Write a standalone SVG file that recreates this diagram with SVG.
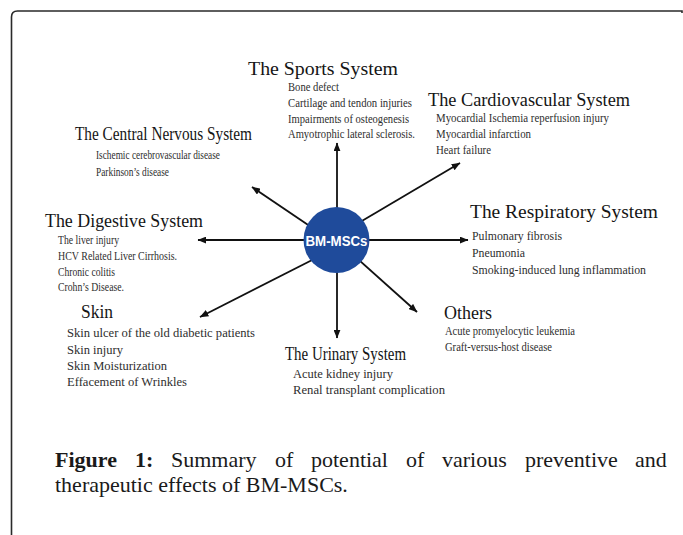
<svg xmlns="http://www.w3.org/2000/svg" width="683" height="535" viewBox="0 0 683 535">
<style>
.title{font-family:"Liberation Serif","Times New Roman",serif;font-size:19px;fill:#151515}
.item{font-family:"Liberation Serif","Times New Roman",serif;font-size:12px;fill:#2e2e2e}
.cap{font-family:"Liberation Serif","Times New Roman",serif;font-size:22px;fill:#1a1a1a}
.conn{stroke:#111;stroke-width:1.8;fill:none;marker-end:url(#ah)}
</style>
<defs>
<marker id="ah" markerUnits="userSpaceOnUse" viewBox="0 0 10 8" markerWidth="9" markerHeight="7" refX="9.5" refY="4" orient="auto">
<path d="M0,0 L10,4 L0,8 z" fill="#111"/>
</marker>
</defs>
<rect width="683" height="535" fill="#fff"/>
<path d="M11.5,535 L11.5,17 Q11.5,11 17.5,11 L682,11 L682,13" stroke="#2a2a2a" stroke-width="1.6" fill="none"/>

<g id="connectors">
<line class="conn" x1="337" y1="220" x2="337" y2="143"/>
<line class="conn" x1="337" y1="260" x2="337" y2="338"/>
<line class="conn" x1="350" y1="240" x2="468" y2="240"/>
<line class="conn" x1="320" y1="240" x2="198" y2="240"/>
<line class="conn" x1="320" y1="233" x2="252" y2="187"/>
<line class="conn" x1="350" y1="228" x2="460" y2="163"/>
<line class="conn" x1="350" y1="252" x2="417" y2="312"/>
<line class="conn" x1="322" y1="255" x2="200" y2="317"/>
</g>

<g id="center">
<circle cx="336.5" cy="240" r="33" fill="#1f4b9b"/>
<text x="336.5" y="245.5" text-anchor="middle" font-family="'Liberation Sans',Arial,sans-serif" font-weight="bold" font-size="15" fill="#fff" textLength="62" lengthAdjust="spacingAndGlyphs">BM-MSCs</text>
</g>

<g id="sports">
<text class="title" x="248" y="75" font-size="20" textLength="150" lengthAdjust="spacingAndGlyphs">The Sports System</text>
<text class="item" x="288" y="91" textLength="51" lengthAdjust="spacingAndGlyphs">Bone defect</text>
<text class="item" x="288" y="107" textLength="124" lengthAdjust="spacingAndGlyphs">Cartilage and tendon injuries</text>
<text class="item" x="288" y="123" textLength="121" lengthAdjust="spacingAndGlyphs">Impairments of osteogenesis</text>
<text class="item" x="288" y="138" textLength="127" lengthAdjust="spacingAndGlyphs">Amyotrophic lateral sclerosis.</text>
</g>

<g id="cardiovascular">
<text class="title" x="428" y="106" textLength="202" lengthAdjust="spacingAndGlyphs">The Cardiovascular System</text>
<text class="item" x="436" y="122" fill="#555" textLength="173" lengthAdjust="spacingAndGlyphs">Myocardial Ischemia reperfusion injury</text>
<text class="item" x="436" y="138" fill="#555" textLength="95" lengthAdjust="spacingAndGlyphs">Myocardial infarction</text>
<text class="item" x="436" y="154" fill="#555" textLength="55" lengthAdjust="spacingAndGlyphs">Heart failure</text>
</g>

<g id="central-nervous">
<text class="title" x="75" y="140" textLength="177" lengthAdjust="spacingAndGlyphs">The Central Nervous System</text>
<text class="item" x="96" y="159" font-size="11.5" fill="#444" textLength="124" lengthAdjust="spacingAndGlyphs">Ischemic cerebrovascular disease</text>
<text class="item" x="96" y="176" font-size="11.5" fill="#444" textLength="73" lengthAdjust="spacingAndGlyphs">Parkinson’s disease</text>
</g>

<g id="digestive">
<text class="title" x="45" y="227" textLength="158" lengthAdjust="spacingAndGlyphs">The Digestive System</text>
<text class="item" x="58" y="244" font-size="11.5" textLength="61" lengthAdjust="spacingAndGlyphs">The liver injury</text>
<text class="item" x="58" y="260" font-size="11.5" textLength="119" lengthAdjust="spacingAndGlyphs">HCV Related Liver Cirrhosis.</text>
<text class="item" x="58" y="276" font-size="11.5" textLength="57" lengthAdjust="spacingAndGlyphs">Chronic colitis</text>
<text class="item" x="58" y="291" font-size="11.5" textLength="66" lengthAdjust="spacingAndGlyphs">Crohn’s Disease.</text>
</g>

<g id="respiratory">
<text class="title" x="470" y="218" font-size="19.5" textLength="188" lengthAdjust="spacingAndGlyphs">The Respiratory System</text>
<text class="item" x="472" y="240" font-size="13" textLength="90" lengthAdjust="spacingAndGlyphs">Pulmonary fibrosis</text>
<text class="item" x="472" y="257" font-size="13" textLength="53" lengthAdjust="spacingAndGlyphs">Pneumonia</text>
<text class="item" x="472" y="274" font-size="13" textLength="174" lengthAdjust="spacingAndGlyphs">Smoking-induced lung inflammation</text>
</g>

<g id="others">
<text class="title" x="444" y="319" font-size="18" textLength="48" lengthAdjust="spacingAndGlyphs">Others</text>
<text class="item" x="445" y="335" font-size="11.5" textLength="130" lengthAdjust="spacingAndGlyphs">Acute promyelocytic leukemia</text>
<text class="item" x="445" y="351" font-size="11.5" textLength="107" lengthAdjust="spacingAndGlyphs">Graft-versus-host disease</text>
</g>

<g id="skin">
<text class="title" x="81" y="318" font-size="18" textLength="32" lengthAdjust="spacingAndGlyphs">Skin</text>
<text class="item" x="67" y="337" font-size="12.5" textLength="188" lengthAdjust="spacingAndGlyphs">Skin ulcer of the old diabetic patients</text>
<text class="item" x="67" y="354" font-size="12.5" textLength="56" lengthAdjust="spacingAndGlyphs">Skin injury</text>
<text class="item" x="67" y="370" font-size="12.5" textLength="100" lengthAdjust="spacingAndGlyphs">Skin Moisturization</text>
<text class="item" x="67" y="386" font-size="12.5" textLength="120" lengthAdjust="spacingAndGlyphs">Effacement of Wrinkles</text>
</g>

<g id="urinary">
<text class="title" x="285" y="360" textLength="121" lengthAdjust="spacingAndGlyphs">The Urinary System</text>
<text class="item" x="293" y="378" font-size="12.5" textLength="100" lengthAdjust="spacingAndGlyphs">Acute kidney injury</text>
<text class="item" x="293" y="394" font-size="12.5" textLength="152" lengthAdjust="spacingAndGlyphs">Renal transplant complication</text>
</g>

<g id="caption">
<text class="cap" y="467"><tspan x="55" font-weight="bold">Figure</tspan><tspan x="135" font-weight="bold">1:</tspan><tspan x="171">Summary</tspan><tspan x="275">of</tspan><tspan x="311">potential</tspan><tspan x="406">of</tspan><tspan x="442">various</tspan><tspan x="525">preventive</tspan><tspan x="635">and</tspan></text>
<text class="cap" x="55" y="492">therapeutic effects of BM-MSCs.</text>
</g>
</svg>
